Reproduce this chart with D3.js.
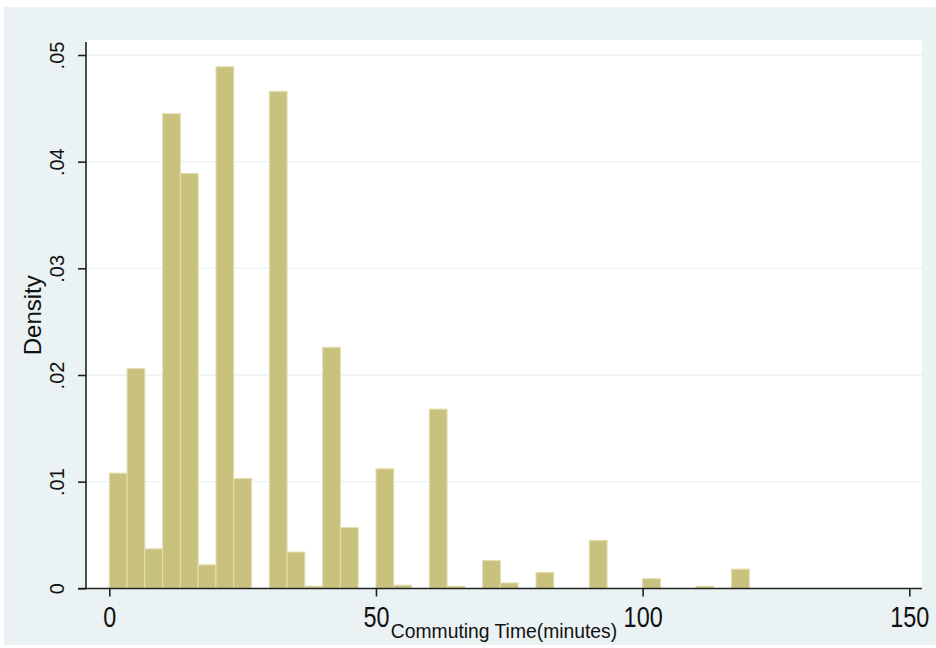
<!DOCTYPE html>
<html>
<head>
<meta charset="utf-8">
<script src="https://cdn.jsdelivr.net/npm/d3@7"></script>
<style>
  body { margin: 0; background: #fff; }
  text { font-family: "Liberation Sans", Arial, sans-serif; fill: #111; }
</style>
</head>
<body>
<div id="chart"></div>
<script>
var width = 936,
    height = 648;

// histogram of commuting time, 36 bins of 10/3 minutes starting at 0
var binWidth = 10 / 3;
var density = [
  0.0108, 0.0206, 0.0037, 0.0445, 0.0389, 0.0022, 0.0489, 0.0103, 0,
  0.0466, 0.0034, 0.0002, 0.0226, 0.0057, 0, 0.0112, 0.0003, 0,
  0.0168, 0.0002, 0, 0.0026, 0.0005, 0, 0.0015, 0, 0,
  0.0045, 0, 0, 0.0009, 0, 0, 0.0002, 0, 0.0018
];
var xTicks = [0, 50, 100, 150];
var yTicks = [0, 0.01, 0.02, 0.03, 0.04, 0.05];
var yTickLabels = ['0', '.01', '.02', '.03', '.04', '.05'];

var svg = d3.select('#chart').append('svg')
  .attr('width', width)
  .attr('height', height);

// graph region
svg.append('rect')
  .attr('x', 4).attr('y', 7)
  .attr('width', 932).attr('height', 638)
  .attr('fill', '#eaf2f3');

// plot region
var plot = { left: 86, right: 922, top: 40, bottom: 588.5 };
svg.append('rect')
  .attr('x', plot.left).attr('y', plot.top)
  .attr('width', plot.right - plot.left).attr('height', plot.bottom - plot.top)
  .attr('fill', '#fff');

var x = d3.scaleLinear().domain([0, 150]).range([109.3, 909.3]);
var y = d3.scaleLinear().domain([0, 0.05]).range([588.3, 55]);

// grid lines
svg.selectAll('line.grid')
  .data(yTicks.slice(1))
  .enter().append('line')
  .attr('class', 'grid')
  .attr('x1', plot.left).attr('x2', plot.right)
  .attr('y1', function(d){ return y(d); })
  .attr('y2', function(d){ return y(d); })
  .attr('stroke', '#eaf2f3')
  .attr('stroke-width', 1.3);

// bars (empty bins are skipped)
var bars = density.map(function(d, i){ return { x0: i * binWidth, x1: (i + 1) * binWidth, v: d }; })
  .filter(function(b){ return b.v > 0; });

svg.selectAll('rect.bar')
  .data(bars)
  .enter().append('rect')
  .attr('class', 'bar')
  .attr('x', function(d){ return x(d.x0); })
  .attr('width', function(d){ return x(d.x1) - x(d.x0); })
  .attr('y', function(d){ return y(d.v); })
  .attr('height', function(d){ return y(0) - y(d.v); })
  .attr('fill', '#c9c27f')
  .attr('stroke', '#e4dfb0')
  .attr('stroke-width', 1);

// y axis
var yAxis = d3.axisLeft(y)
  .tickValues(yTicks)
  .tickSize(8)
  .tickFormat(function(d, i){ return yTickLabels[i]; });

var gy = svg.append('g')
  .attr('transform', 'translate(' + plot.left + ',0)')
  .call(yAxis);
gy.select('.domain').attr('d', 'M0,42V' + plot.bottom).attr('stroke', '#222').attr('stroke-width', 1.6);
gy.selectAll('.tick line').attr('stroke', '#222').attr('stroke-width', 1.6);
gy.selectAll('.tick text')
  .attr('x', null).attr('dy', null)
  .attr('text-anchor', 'middle')
  .attr('transform', 'translate(-22,0) rotate(-90)')
  .style('font-size', '20px')
  .style('font-family', '"Liberation Sans", Arial, sans-serif')
  .attr('fill', '#111');

// x axis
var xAxis = d3.axisBottom(x)
  .tickValues(xTicks)
  .tickSize(8)
  .tickFormat(d3.format('d'));

var gx = svg.append('g')
  .attr('transform', 'translate(0,' + plot.bottom + ')')
  .call(xAxis);
gx.select('.domain').attr('d', 'M' + (plot.left - 8) + ',0H' + plot.right).attr('stroke', '#222').attr('stroke-width', 1.6);
gx.selectAll('.tick line').attr('stroke', '#222').attr('stroke-width', 1.6);
// condensed look of the original labels
gx.selectAll('.tick text')
  .attr('y', null).attr('dy', null)
  .attr('transform', 'translate(0,38) scale(0.78,1)')
  .style('font-size', '30px')
  .style('font-family', '"Liberation Sans", Arial, sans-serif')
  .attr('fill', '#111');

// axis titles
svg.append('text')
  .attr('transform', 'translate(' + ((plot.left + plot.right) / 2) + ',638) scale(0.92,1)')
  .attr('text-anchor', 'middle')
  .style('font-size', '21px')
  .text('Commuting Time(minutes)');

svg.append('text')
  .attr('transform', 'translate(41,' + ((42 + plot.bottom) / 2) + ') rotate(-90)')
  .attr('text-anchor', 'middle')
  .style('font-size', '24px')
  .text('Density');
</script>
</body>
</html>
